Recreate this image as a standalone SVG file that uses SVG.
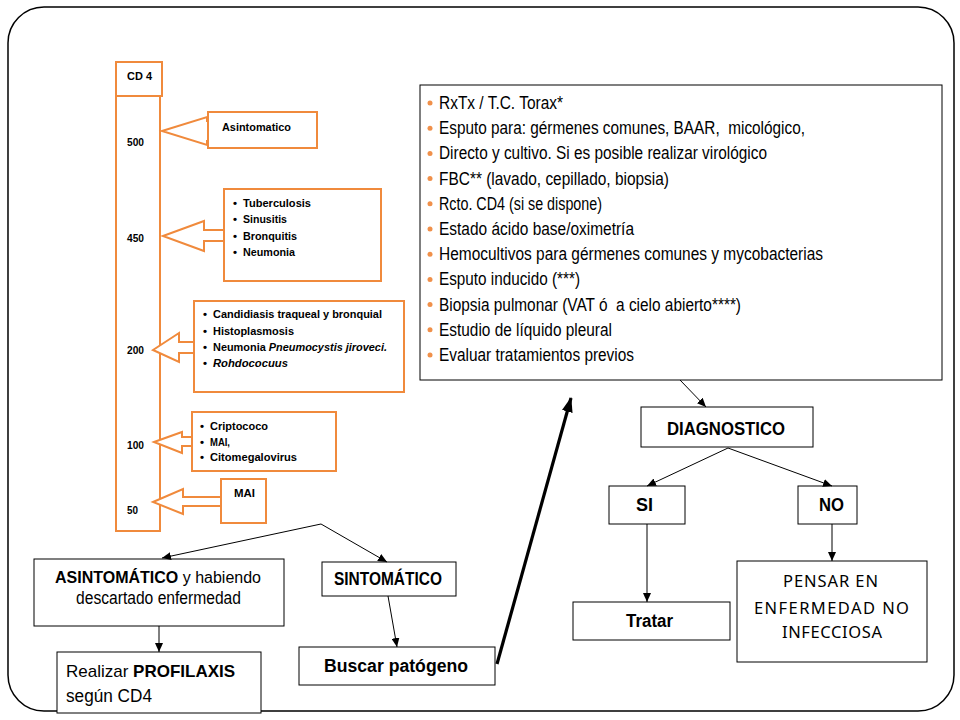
<svg xmlns="http://www.w3.org/2000/svg" width="960" height="720" viewBox="0 0 960 720">
<defs>
<marker id="ah" markerUnits="userSpaceOnUse" markerWidth="9" markerHeight="8" refX="9" refY="4" orient="auto"><path d="M0,0 L9,4 L0,8 z" fill="#000"/></marker>
<marker id="ahb" markerUnits="userSpaceOnUse" markerWidth="15" markerHeight="11" refX="14" refY="5.5" orient="auto"><path d="M0,0 L15,5.5 L0,11 z" fill="#000"/></marker>
</defs>
<style>
.frame{fill:#fff;stroke:#000;stroke-width:1.5}
.o{fill:#fff;stroke:#F08A3C;stroke-width:2}
.b{fill:#fff;stroke:#000;stroke-width:1}
.lt{font-family:"Liberation Sans",Arial,sans-serif;font-weight:bold;font-size:11.5px;fill:#000}
.nt{font-family:"Liberation Sans",Arial,sans-serif;font-weight:bold;font-size:10.5px;fill:#000}
.it{font-style:italic}
.rt{font-family:"Liberation Sans",Arial,sans-serif;font-size:17.5px;fill:#000}
.bt{font-family:"Liberation Sans",Arial,sans-serif;font-weight:bold;font-size:17.5px;fill:#000}
.mt{font-family:"Liberation Sans",Arial,sans-serif;font-size:17.5px;fill:#000}
.bold{font-weight:bold}
.pt{font-family:"Noto Sans",sans-serif;font-size:16.5px;fill:#000}
.dot{fill:#F0904A}
.c{fill:none;stroke:#000;stroke-width:1}
</style>
<rect x="0" y="0" width="960" height="720" fill="#fff"/>
<rect class="frame" x="8" y="7" width="946" height="704" rx="36" ry="36"/>

<g id="cd4-scale">
<rect class="o" x="116" y="62" width="46" height="34"/>
<rect class="o" x="116" y="96" width="44" height="435"/>
<text class="nt" x="127" y="79.5" textLength="25" lengthAdjust="spacingAndGlyphs">CD 4</text>
<text class="nt" x="127" y="145.5" textLength="17" lengthAdjust="spacingAndGlyphs">500</text>
<text class="nt" x="127" y="241.5" textLength="17" lengthAdjust="spacingAndGlyphs">450</text>
<text class="nt" x="127" y="353.5" textLength="17" lengthAdjust="spacingAndGlyphs">200</text>
<text class="nt" x="127" y="448.5" textLength="17" lengthAdjust="spacingAndGlyphs">100</text>
<text class="nt" x="127" y="513.5" textLength="11" lengthAdjust="spacingAndGlyphs">50</text>
</g>

<g id="asintomatico-cd4">
<polygon class="o" points="162,131 207,117 207,121 215,121 215,141 207,141 207,145"/>
<rect class="o" x="208" y="112" width="109" height="36"/>
<text class="lt" x="222" y="131" textLength="69" lengthAdjust="spacingAndGlyphs">Asintomatico</text>
</g>

<g id="cd4-450">
<polygon class="o" points="163,236 204,221 204,230 226,230 226,241 204,241 204,251"/>
<rect class="o" x="224" y="189" width="157" height="92"/>
<text class="lt" x="233" y="207">•</text>
<text class="lt" x="243" y="207" textLength="68" lengthAdjust="spacingAndGlyphs">Tuberculosis</text>
<text class="lt" x="233" y="223">•</text>
<text class="lt" x="243" y="223" textLength="44" lengthAdjust="spacingAndGlyphs">Sinusitis</text>
<text class="lt" x="233" y="240">•</text>
<text class="lt" x="243" y="240" textLength="54" lengthAdjust="spacingAndGlyphs">Bronquitis</text>
<text class="lt" x="233" y="256">•</text>
<text class="lt" x="243" y="256" textLength="52" lengthAdjust="spacingAndGlyphs">Neumonia</text>
</g>

<g id="cd4-200">
<polygon class="o" points="153,350 179,333 179,342 196,342 196,353 179,353 179,362"/>
<rect class="o" x="194" y="301" width="210" height="91"/>
<text class="lt" x="203" y="318">•</text>
<text class="lt" x="213" y="318" textLength="169" lengthAdjust="spacingAndGlyphs">Candidiasis traqueal y bronquial</text>
<text class="lt" x="203" y="335">•</text>
<text class="lt" x="213" y="335" textLength="81" lengthAdjust="spacingAndGlyphs">Histoplasmosis</text>
<text class="lt" x="203" y="351">•</text>
<text class="lt" x="213" y="351" textLength="174" lengthAdjust="spacingAndGlyphs">Neumonia <tspan class="it">Pneumocystis jiroveci.</tspan></text>
<text class="lt" x="203" y="367">•</text>
<text class="lt it" x="213" y="367" textLength="75" lengthAdjust="spacingAndGlyphs">Rohdococuus</text>
</g>

<g id="cd4-100">
<polygon class="o" points="154,442 182,432 182,437 194,437 194,446 182,446 182,453"/>
<rect class="o" x="192" y="412" width="144" height="59"/>
<text class="lt" x="200" y="430">•</text>
<text class="lt" x="210" y="430" textLength="58" lengthAdjust="spacingAndGlyphs">Criptococo</text>
<text class="lt" x="200" y="446">•</text>
<text class="lt" x="210" y="446" textLength="20" lengthAdjust="spacingAndGlyphs">MAI,</text>
<text class="lt" x="200" y="461">•</text>
<text class="lt" x="210" y="461" textLength="87" lengthAdjust="spacingAndGlyphs">Citomegalovirus</text>
</g>

<g id="cd4-50">
<polygon class="o" points="153,502 183,489 183,497 223,497 223,506 183,506 183,514"/>
<rect class="o" x="221" y="479" width="45" height="44"/>
<text class="lt" x="234" y="497" textLength="21" lengthAdjust="spacingAndGlyphs">MAI</text>
</g>

<g id="estudios">
<rect class="b" x="420" y="85" width="522" height="295"/>
<g class="dot">
<circle cx="430" cy="103" r="2.5"/>
<circle cx="430" cy="128.2" r="2.5"/>
<circle cx="430" cy="153.4" r="2.5"/>
<circle cx="430" cy="178.6" r="2.5"/>
<circle cx="430" cy="203.8" r="2.5"/>
<circle cx="430" cy="229" r="2.5"/>
<circle cx="430" cy="254.2" r="2.5"/>
<circle cx="430" cy="279.4" r="2.5"/>
<circle cx="430" cy="304.6" r="2.5"/>
<circle cx="430" cy="329.8" r="2.5"/>
<circle cx="430" cy="355" r="2.5"/>
</g>
<text class="rt" x="439" y="109" textLength="124" lengthAdjust="spacingAndGlyphs">RxTx / T.C. Torax*</text>
<text class="rt" x="439" y="134.2" textLength="366" lengthAdjust="spacingAndGlyphs">Esputo para: gérmenes comunes, BAAR, &#160;micológico,</text>
<text class="rt" x="439" y="159.4" textLength="328" lengthAdjust="spacingAndGlyphs">Directo y cultivo. Si es posible realizar virológico</text>
<text class="rt" x="439" y="184.6" textLength="230" lengthAdjust="spacingAndGlyphs">FBC** (lavado, cepillado, biopsia)</text>
<text class="rt" x="439" y="209.8" textLength="163" lengthAdjust="spacingAndGlyphs">Rcto. CD4 (si se dispone)</text>
<text class="rt" x="439" y="235" textLength="195" lengthAdjust="spacingAndGlyphs">Estado ácido base/oximetría</text>
<text class="rt" x="439" y="260.2" textLength="384" lengthAdjust="spacingAndGlyphs">Hemocultivos para gérmenes comunes y mycobacterias</text>
<text class="rt" x="439" y="285.4" textLength="141" lengthAdjust="spacingAndGlyphs">Esputo inducido (***)</text>
<text class="rt" x="439" y="310.6" textLength="302" lengthAdjust="spacingAndGlyphs">Biopsia pulmonar (VAT ó &#160;a cielo abierto****)</text>
<text class="rt" x="439" y="335.8" textLength="173" lengthAdjust="spacingAndGlyphs">Estudio de líquido pleural</text>
<text class="rt" x="439" y="361" textLength="195" lengthAdjust="spacingAndGlyphs">Evaluar tratamientos previos</text>
</g>

<g id="asintomatico">
<rect class="b" x="34" y="559" width="250" height="67"/>
<text class="mt" x="55" y="583" style="font-size:16px"><tspan class="bold">ASINTOMÁTICO</tspan> y habiendo</text>
<text class="mt" x="76" y="604" textLength="165" lengthAdjust="spacingAndGlyphs">descartado enfermedad</text>
</g>

<g id="profilaxis">
<rect class="b" x="57" y="652" width="204" height="61"/>
<text class="mt" x="66" y="677" style="font-size:17px">Realizar <tspan class="bold">PROFILAXIS</tspan></text>
<text class="mt" x="66" y="702" textLength="86" lengthAdjust="spacingAndGlyphs">según CD4</text>
</g>

<g id="sintomatico">
<rect class="b" x="322" y="562" width="134" height="34"/>
<text class="bt" x="334" y="585" textLength="108" lengthAdjust="spacingAndGlyphs">SINTOMÁTICO</text>
</g>

<g id="buscar">
<rect class="b" x="299" y="647" width="196" height="38"/>
<text class="bt" x="324" y="672" textLength="144" lengthAdjust="spacingAndGlyphs">Buscar patógeno</text>
</g>

<g id="diagnostico">
<rect class="b" x="641" y="407" width="172" height="40"/>
<text class="bt" x="667" y="435" textLength="118" lengthAdjust="spacingAndGlyphs">DIAGNOSTICO</text>
</g>

<g id="si">
<rect class="b" x="609" y="486" width="76" height="38"/>
<text class="bt" x="636" y="511" textLength="17" lengthAdjust="spacingAndGlyphs">SI</text>
</g>

<g id="no">
<rect class="b" x="798" y="486" width="59" height="38"/>
<text class="bt" x="819" y="511" textLength="25" lengthAdjust="spacingAndGlyphs">NO</text>
</g>

<g id="tratar">
<rect class="b" x="573" y="602" width="157" height="38"/>
<text class="bt" x="626" y="627" textLength="47" lengthAdjust="spacingAndGlyphs">Tratar</text>
</g>

<g id="pensar">
<rect class="b" x="737" y="561" width="190" height="101"/>
<text class="pt" x="783" y="587" textLength="95" lengthAdjust="spacing">PENSAR EN</text>
<text class="pt" x="754" y="614" textLength="155" lengthAdjust="spacing">ENFERMEDAD NO</text>
<text class="pt" x="782" y="638" textLength="100" lengthAdjust="spacing">INFECCIOSA</text>
</g>

<g id="connectors">
<line class="c" x1="321" y1="524" x2="162" y2="558" marker-end="url(#ah)"/>
<line class="c" x1="321" y1="524" x2="387" y2="562" marker-end="url(#ah)"/>
<line class="c" x1="159" y1="626" x2="159" y2="652" marker-end="url(#ah)"/>
<line class="c" x1="388" y1="596" x2="397" y2="647" marker-end="url(#ah)"/>
<line x1="497" y1="664" x2="571" y2="398" stroke="#000" stroke-width="3.2" marker-end="url(#ahb)"/>
<line class="c" x1="680" y1="380" x2="706" y2="407" marker-end="url(#ah)"/>
<line class="c" x1="728" y1="448" x2="647" y2="486" marker-end="url(#ah)"/>
<line class="c" x1="728" y1="448" x2="832" y2="486" marker-end="url(#ah)"/>
<line class="c" x1="647" y1="524" x2="647" y2="602" marker-end="url(#ah)"/>
<line class="c" x1="832" y1="524" x2="832" y2="561" marker-end="url(#ah)"/>
</g>
</svg>
